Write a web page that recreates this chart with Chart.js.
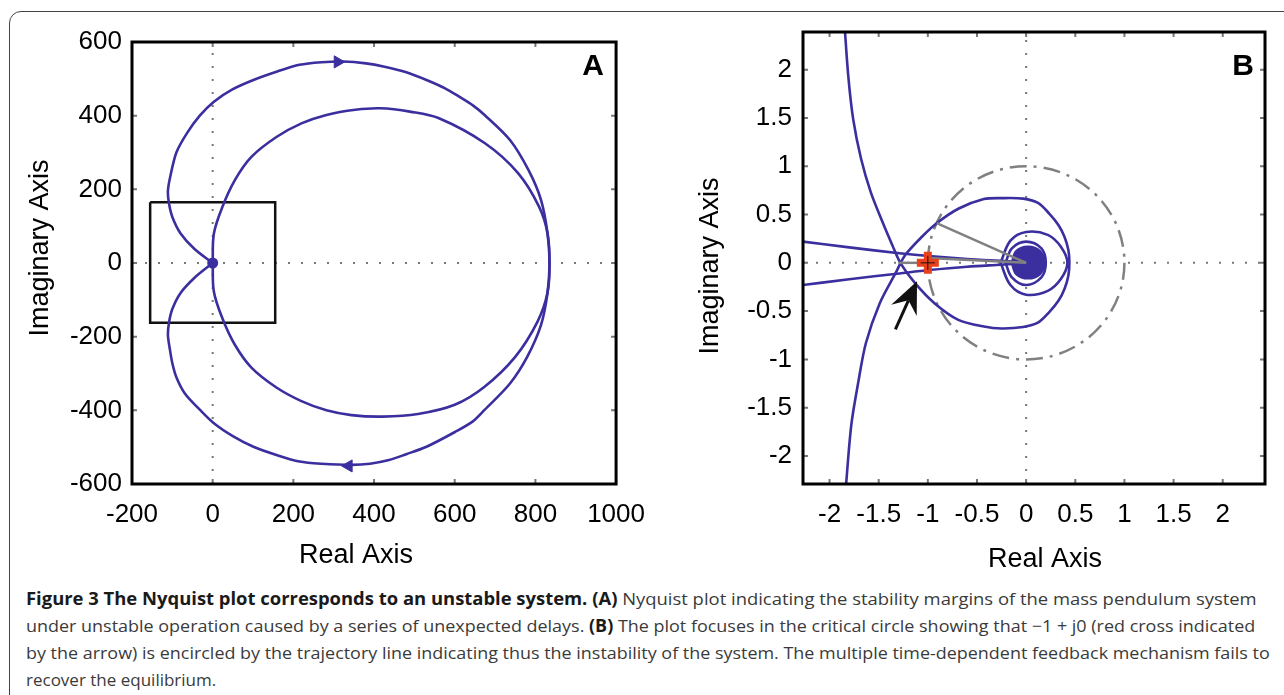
<!DOCTYPE html>
<html>
<head>
<meta charset="utf-8">
<script src="https://cdn.jsdelivr.net/npm/chart.js@4.4.1/dist/chart.umd.min.js"></script>
<style>
  body { margin: 0; background: #fff; width: 1284px; height: 695px; overflow: hidden; position: relative; }
  .frame { position: absolute; left: 9px; top: 11px; width: 1320px; height: 720px; border: 1.5px solid #444; border-radius: 12px; }
  canvas { position: absolute; top: 0; }
  #chartA { left: 0; }
  #chartB { left: 660px; }
  .cap { position: absolute; left: 26px; height: 27px; line-height: 27px; font-family: 'Open Sans', sans-serif; font-size: 17px; color: #3a3a3a; white-space: nowrap; }
  .cap span { display: inline-block; transform-origin: 0 50%; }
  .cap b { color: #1a1a1a; font-weight: 700; }
</style>
</head>
<body>
<div class="frame"></div>
<canvas id="chartA" width="660" height="575"></canvas>
<canvas id="chartB" width="624" height="575"></canvas>

<div class="cap" style="top:585px"><span><b>Figure 3 The Nyquist plot corresponds to an unstable system.</b> <b>(A)</b> Nyquist plot indicating the stability margins of the mass pendulum system</span></div>
<div class="cap" style="top:612px"><span>under unstable operation caused by a series of unexpected delays. <b>(B)</b> The plot focuses in the critical circle showing that −1 + j0 (red cross indicated</span></div>
<div class="cap" style="top:639px"><span>by the arrow) is encircled by the trajectory line indicating thus the instability of the system. The multiple time-dependent feedback mechanism fails to</span></div>
<div class="cap" style="top:666px"><span>recover the equilibrium.</span></div>

<script>
const blue = '#3b2f9f'
const grey = '#808080'
const axisFont = "'Liberation Sans', Arial, sans-serif"

// ---- panel A: full Nyquist plot ----
const ticksA_x = [-200, 0, 200, 400, 600, 800, 1000]
const ticksA_y = [-600, -400, -200, 0, 200, 400, 600]

const outerRe = [0, -45, -80, -100, -108, -111, -106, -90, -64, -32, 3, 50, 101, 160, 215, 270, 323, 380, 426, 480, 530, 575, 612, 645, 674, 737, 783, 814, 830, 835,
                 830, 814, 780, 737, 674, 645, 602, 530, 480, 437, 390, 344, 270, 215, 160, 101, 50, 3, -32, -69, -90, -100, -106, -111, -108, -100, -80, -45, 0]
const outerIm = [0, 38, 81, 125, 160, 194, 230, 300, 352, 400, 438, 472, 497, 520, 538, 545, 547, 542, 533, 518, 497, 475, 451, 428, 402, 334, 252, 171, 81, 0,
                 -81, -168, -254, -327, -399, -430, -458, -499, -519, -535, -545, -548, -545, -539, -522, -499, -470, -435, -398, -354, -310, -272, -235, -195, -160, -125, -82, -40, 0]

const innerRe = [0, 3, 24, 55, 96, 158, 220, 282, 354, 415, 489, 561, 675, 757, 809, 830, 835,
                 830, 805, 750, 674, 600, 509, 421, 344, 282, 220, 158, 96, 55, 24, 3, 0]
const innerIm = [0, 80, 152, 225, 288, 342, 379, 402, 416, 420, 411, 393, 325, 244, 153, 81, 0,
                 -81, -160, -255, -336, -385, -410, -417, -413, -400, -375, -338, -284, -222, -150, -78, 0]

// zoom window drawn in panel A
const boxRe = [-155, 155, 155, -155, -155]
const boxIm = [165, 165, -162, -162, 165]

// direction arrows on the trajectory
const arrowARe = [310, 337]
const arrowAIm = [546, -551]
const arrowARot = [90, -90]

// ---- panel B: zoom on the critical point ----
const ticksB_x = [-2, -1.5, -1, -0.5, 0, 0.5, 1, 1.5, 2]
const ticksB_y = [-2, -1.5, -1, -0.5, 0, 0.5, 1, 1.5, 2]

const mainRe = [-1.85, -1.81, -1.76, -1.68, -1.58, -1.46, -1.36, -1.28, -1.13, -0.93, -0.69, -0.43, -0.25, -0.03, 0.12, 0.235, 0.33, 0.39, 0.43, 0.44,
                0.43, 0.39, 0.33, 0.235, 0.12, -0.03, -0.25, -0.43, -0.69, -0.91, -1.06, -1.23, -1.33, -1.49, -1.63, -1.71, -1.78, -1.84]
const mainIm = [2.5, 1.94, 1.49, 1.08, 0.73, 0.42, 0.18, 0.0, -0.21, -0.42, -0.59, -0.66, -0.68, -0.665, -0.62, -0.51, -0.39, -0.27, -0.13, 0,
                0.13, 0.27, 0.39, 0.51, 0.62, 0.665, 0.67, 0.66, 0.56, 0.41, 0.27, 0.08, -0.11, -0.42, -0.83, -1.25, -1.69, -2.4]

const upperRe = [-2.35, -1.8, -1.29, -0.99, -0.6, -0.26, -0.1, 0]
const upperIm = [0.23, 0.16, 0.10, 0.07, 0.04, 0.02, 0.01, 0]
const lowerRe = [-2.35, -1.8, -1.29, -0.99, -0.6, -0.26, -0.1, 0]
const lowerIm = [-0.24, -0.17, -0.11, -0.075, -0.04, -0.02, -0.01, 0]

const loop1Re = [-0.26, -0.16, 0, 0.22, 0.355, 0.42, 0.355, 0.22, 0, -0.16, -0.26]
const loop1Im = [0, 0.23, 0.32, 0.29, 0.165, 0, -0.165, -0.29, -0.33, -0.23, 0]
const loop2Re = [-0.21, -0.145, 0, 0.155, 0.2, 0.155, 0, -0.145, -0.21]
const loop2Im = [0, 0.15, 0.22, 0.15, 0, -0.15, -0.23, -0.15, 0]
const coreRe = [-0.145, -0.1, 0.02, 0.14, 0.185, 0.14, 0.02, -0.1, -0.145]
const coreIm = [0, 0.12, 0.165, 0.12, 0, -0.115, -0.16, -0.115, 0]

// phase / gain margin guides
const pmRe = [-0.91, 0]
const pmIm = [0.41, 0]
const gmRe = [-1.0, 0]
const gmIm = [0.05, 0]
const gmStubRe = [-1.3, -1.08]
const gmStubIm = [0, 0]

const critRe = [-1]
const critIm = [0]

const pts = (re, im) => re.map((v, i) => ({ x: v, y: im[i] }))

const line = (re, im, color, width, extra) => Object.assign({
    data: pts(re, im),
    showLine: true,
    borderColor: color,
    borderWidth: width,
    pointRadius: 0,
    tension: 0,
    order: 1
}, extra || {})

const zeroLine = (re, im) => line(re, im, '#777', 2, { borderDash: [2, 11], order: 10 })

const frameTicks = {
    id: 'frameTicks',
    afterDraw(chart, args, o) {
        const { ctx, chartArea: a, scales: { x, y } } = chart
        ctx.save()
        ctx.strokeStyle = '#777'
        ctx.lineWidth = 2
        ctx.beginPath()
        x.ticks.forEach(t => {
            const p = x.getPixelForValue(t.value)
            ctx.moveTo(p, a.bottom); ctx.lineTo(p, a.bottom - 5)
            ctx.moveTo(p, a.top); ctx.lineTo(p, a.top + 5)
        })
        y.ticks.forEach(t => {
            const p = y.getPixelForValue(t.value)
            ctx.moveTo(a.left, p); ctx.lineTo(a.left + 5, p)
            ctx.moveTo(a.right, p); ctx.lineTo(a.right - 5, p)
        })
        ctx.stroke()
        ctx.strokeStyle = '#000'
        ctx.lineWidth = 3
        ctx.strokeRect(a.left, a.top, a.right - a.left, a.bottom - a.top)

        ctx.fillStyle = '#000'
        ctx.textAlign = 'center'
        ctx.textBaseline = 'middle'
        ctx.font = 'bold 30px ' + axisFont
        ctx.fillText(o.letter, o.letterAt[0], o.letterAt[1])
        ctx.font = '27px ' + axisFont
        ctx.fillText(o.xTitle, o.xTitleAt[0], o.xTitleAt[1])
        ctx.translate(o.yTitleAt[0], o.yTitleAt[1])
        ctx.rotate(-Math.PI / 2)
        ctx.fillText(o.yTitle, 0, 0)
        ctx.restore()
    }
}

const critCircle = {
    id: 'critCircle',
    beforeDatasetsDraw(chart, args, o) {
        if (!o.r) return
        const { ctx, chartArea: a, scales: { x, y } } = chart
        const cx = x.getPixelForValue(o.c[0]), cy = y.getPixelForValue(o.c[1])
        const rx = Math.abs(x.getPixelForValue(o.c[0] + o.r) - cx)
        const ry = Math.abs(y.getPixelForValue(o.c[1] + o.r) - cy)
        ctx.save()
        ctx.beginPath()
        ctx.rect(a.left, a.top, a.right - a.left, a.bottom - a.top)
        ctx.clip()
        ctx.strokeStyle = grey
        ctx.lineWidth = 2.5
        ctx.setLineDash([17, 7, 3, 7])
        ctx.beginPath()
        ctx.ellipse(cx, cy, rx, ry, 0, 0, Math.PI * 2)
        ctx.stroke()
        ctx.restore()
    },
    afterDatasetsDraw(chart, args, o) {
        if (!o.arrow) return
        const { ctx, scales: { x, y } } = chart
        const tx = x.getPixelForValue(o.arrow[0][0]), ty = y.getPixelForValue(o.arrow[0][1])
        const hx = x.getPixelForValue(o.arrow[1][0]), hy = y.getPixelForValue(o.arrow[1][1])
        const ang = Math.atan2(hy - ty, hx - tx)
        const L = 32, W = 14, N = 21
        const bx = hx - Math.cos(ang) * L, by = hy - Math.sin(ang) * L
        ctx.save()
        ctx.strokeStyle = '#111'
        ctx.fillStyle = '#111'
        ctx.lineWidth = 3
        ctx.beginPath()
        ctx.moveTo(tx, ty)
        ctx.lineTo(hx - Math.cos(ang) * N, hy - Math.sin(ang) * N)
        ctx.stroke()
        ctx.beginPath()
        ctx.moveTo(hx, hy)
        ctx.lineTo(bx - Math.sin(ang) * W, by + Math.cos(ang) * W)
        ctx.lineTo(hx - Math.cos(ang) * N, hy - Math.sin(ang) * N)
        ctx.lineTo(bx + Math.sin(ang) * W, by - Math.cos(ang) * W)
        ctx.closePath()
        ctx.fill()
        ctx.restore()
    }
}

Chart.register(frameTicks, critCircle)

const axis = (min, max, vals, size, pad, fmt) => ({
    type: 'linear',
    min: min,
    max: max,
    afterBuildTicks: s => { s.ticks = vals.map(v => ({ value: v })) },
    afterFit: s => { if (s.isHorizontal()) s.height = size; else s.width = size },
    grid: { display: false, drawTicks: false },
    border: { display: false },
    ticks: {
        padding: pad,
        color: '#000',
        font: { family: axisFont, size: 26 },
        maxRotation: 0,
        autoSkip: false,
        callback: fmt
    }
})

const baseOpts = {
    responsive: false,
    animation: false,
    devicePixelRatio: 1,
    events: [],
    plugins: { legend: { display: false }, tooltip: { enabled: false } }
}

new Chart(document.getElementById('chartA'), {
    type: 'scatter',
    data: {
        datasets: [
            line(outerRe, outerIm, blue, 2.6, { tension: 0.3 }),
            line(innerRe, innerIm, blue, 2.6, { tension: 0.35 }),
            line(boxRe, boxIm, '#111', 2.5, { order: 2 }),
            {
                data: [{ x: 0, y: 0 }],
                pointRadius: 5.5,
                pointBackgroundColor: blue,
                pointBorderWidth: 0,
                order: 0
            },
            {
                data: pts(arrowARe, arrowAIm),
                pointStyle: 'triangle',
                rotation: arrowARot,
                pointRadius: 7,
                pointBackgroundColor: blue,
                pointBorderColor: blue,
                pointBorderWidth: 1,
                order: 0
            },
            zeroLine([-200, 1000], [0, 0]),
            zeroLine([0, 0], [-600, 600])
        ]
    },
    options: Object.assign({}, baseOpts, {
        layout: { padding: { left: 0, top: 42, right: 39, bottom: 0 } },
        scales: {
            x: axis(-200, 1000, ticksA_x, 91, 15, v => String(v)),
            y: axis(-600, 600, ticksA_y, 132, 10, v => String(v))
        },
        plugins: Object.assign({}, baseOpts.plugins, {
            frameTicks: { letter: 'A', letterAt: [593, 67], xTitle: 'Real Axis', xTitleAt: [356, 556], yTitle: 'Imaginary Axis', yTitleAt: [41, 248] },
            critCircle: {}
        })
    })
})

new Chart(document.getElementById('chartB'), {
    type: 'scatter',
    data: {
        datasets: [
            {
                data: pts(critRe, critIm),
                pointStyle: 'cross',
                pointRadius: 7,
                pointBorderColor: '#111',
                pointBorderWidth: 1,
                order: -2
            },
            {
                data: pts(critRe, critIm),
                pointStyle: 'cross',
                pointRadius: 11,
                pointBorderColor: '#e8401c',
                pointBorderWidth: 8,
                order: -1
            },
            line(mainRe, mainIm, blue, 2.6, { tension: 0.3 }),
            line(upperRe, upperIm, blue, 2.6, { tension: 0.3 }),
            line(lowerRe, lowerIm, blue, 2.6, { tension: 0.3 }),
            line(loop1Re, loop1Im, blue, 2.6, { tension: 0.35 }),
            line(loop2Re, loop2Im, blue, 2.6, { tension: 0.35 }),
            line(coreRe, coreIm, blue, 2.6, { tension: 0.35, fill: 'shape', backgroundColor: blue }),
            line(pmRe, pmIm, grey, 2.5, { order: 0 }),
            line(gmRe, gmIm, grey, 2.5, { order: 0 }),
            line(gmStubRe, gmStubIm, grey, 2.5, { order: 0 }),
            zeroLine([-2.27, 2.43], [0, 0]),
            zeroLine([0, 0], [-2.29, 2.39])
        ]
    },
    options: Object.assign({}, baseOpts, {
        layout: { padding: { left: 0, top: 32, right: 11, bottom: 0 } },
        scales: {
            x: axis(-2.27, 2.43, ticksB_x, 91, 15, v => String(v)),
            y: axis(-2.29, 2.39, ticksB_y, 143, 11, v => String(v))
        },
        plugins: Object.assign({}, baseOpts.plugins, {
            frameTicks: { letter: 'B', letterAt: [583, 67], xTitle: 'Real Axis', xTitleAt: [385, 560], yTitle: 'Imaginary Axis', yTitleAt: [51, 266] },
            critCircle: { c: [0, 0], r: 1, arrow: [[-1.33, -0.69], [-1.11, -0.19]] }
        })
    })
})

// stretch the three justified caption lines to their measured widths
const capWidths = [1231, 1229, 1244]
document.querySelectorAll('.cap span').forEach((el, i) => {
    if (!capWidths[i]) return
    el.style.transform = `scaleX(${capWidths[i] / el.offsetWidth})`
})
</script>
</body>
</html>
